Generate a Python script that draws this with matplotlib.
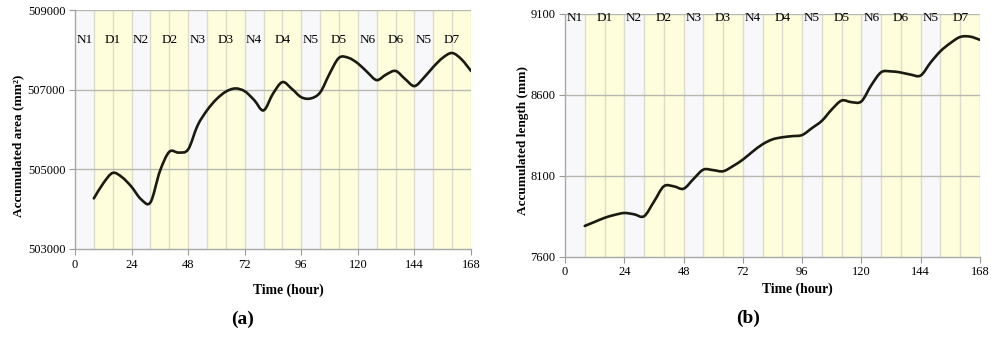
import numpy as np
import matplotlib
matplotlib.use("Agg")
import matplotlib.pyplot as plt
from matplotlib.path import Path
from matplotlib.patches import PathPatch

plt.rcParams['font.family'] = ['Liberation Serif', 'DejaVu Serif']

# ---- data ----
hours = [8, 12, 16, 20, 24, 28, 32, 36, 40, 44, 48, 52, 56, 60, 64, 68, 72, 76, 80, 84,
         88, 92, 96, 100, 104, 108, 112, 116, 120, 124, 128, 132, 136, 140, 144, 148,
         152, 156, 160, 164, 168]
area = [504270, 504650, 504910, 504800, 504560, 504250, 504170, 504950, 505440, 505420,
        505500, 506100, 506480, 506760, 506950, 507030, 506960, 506740, 506480, 506900,
        507190, 507020, 506810, 506780, 506930, 507400, 507800, 507800, 507660, 507440,
        507240, 507380, 507470, 507270, 507090, 507300, 507570, 507800, 507920, 507760,
        507470]
length = [7790, 7815, 7840, 7858, 7870, 7862, 7850, 7940, 8035, 8035, 8020, 8080, 8138,
          8135, 8128, 8160, 8200, 8250, 8295, 8325, 8338, 8345, 8352, 8395, 8440, 8510,
          8565, 8555, 8560, 8660, 8740, 8745, 8738, 8725, 8720, 8800, 8870, 8920, 8958,
          8960, 8940]
period_labels = ['N1', 'D1', 'N2', 'D2', 'N3', 'D3', 'N4', 'D4', 'N5', 'D5', 'N6', 'D6', 'N5', 'D7']
period_edges = [0, 8, 24, 32, 48, 56, 72, 80, 96, 104, 120, 128, 144, 152, 168]
x_ticks = [0, 24, 48, 72, 96, 120, 144, 168]
area_ticks = [503000, 505000, 507000, 509000]
length_ticks = [7600, 8100, 8600, 9100]

GREY = '#f8f8fa'
YELLOW = '#fefedc'
VLINE = '#dcdccc'
HLINE = '#b8b8b0'


def smooth_path(x, y):
    x = np.asarray(x, float)
    y = np.asarray(y, float)
    n = len(x)
    verts = [(x[0], y[0])]
    codes = [Path.MOVETO]
    for i in range(n - 1):
        i0 = max(i - 1, 0)
        i3 = min(i + 2, n - 1)
        c1 = (x[i] + (x[i + 1] - x[i0]) / 6, y[i] + (y[i + 1] - y[i0]) / 6)
        c2 = (x[i + 1] - (x[i3] - x[i]) / 6, y[i + 1] - (y[i3] - y[i]) / 6)
        verts += [c1, c2, (x[i + 1], y[i + 1])]
        codes += [Path.CURVE4] * 3
    return Path(verts, codes)


def draw(ax, yvals, yticks, ylabel, label_y, ylab_xy, xlab_xy):
    ymin, ymax = yticks[0], yticks[-1]
    for k in range(len(period_edges) - 1):
        a, b = period_edges[k], period_edges[k + 1]
        col = GREY if period_labels[k].startswith('N') else YELLOW
        ax.axvspan(a, b, color=col, lw=0, zorder=0)
        ax.text((a + b) / 2, label_y, period_labels[k], transform=ax.get_xaxis_transform(),
                ha='center', va='center', fontsize=9.5, zorder=3)
    for v in range(8, 169, 8):
        ax.axvline(v, color=VLINE, lw=1.0, zorder=1)
    for t in yticks[1:]:
        ax.axhline(t, color=HLINE, lw=1.0, zorder=1)
    ax.add_patch(PathPatch(smooth_path(hours, yvals), facecolor='none',
                           edgecolor='#1a1a10', lw=1.9, zorder=4, capstyle='round'))
    ax.set_xlim(0, 168)
    ax.set_ylim(ymin, ymax)
    ax.set_xticks(x_ticks)
    ax.set_yticks(yticks)
    ax.tick_params(axis='both', labelsize=9, color='#999999', length=4, width=0.8, pad=3)
    for s in ['top', 'right']:
        ax.spines[s].set_visible(False)
    for s in ['left', 'bottom']:
        ax.spines[s].set_color('#a8a8a8')
        ax.spines[s].set_linewidth(1.0)
    ax.set_xlabel('Time (hour)', fontsize=9.8, fontweight='bold')
    ax.set_ylabel(ylabel, fontsize=9.5, fontweight='bold')
    ax.yaxis.set_label_coords(*ylab_xy)
    ax.xaxis.set_label_coords(*xlab_xy)


fig = plt.figure(figsize=(10, 3.39), dpi=100)
ax1 = fig.add_axes([0.075, 0.2655, 0.396, 0.705])
ax2 = fig.add_axes([0.565, 0.2428, 0.415, 0.716])

draw(ax1, area, area_ticks, 'Accumulated area (mm²)', 0.875, (-0.128, 0.43), (0.538, -0.146))
draw(ax2, length, length_ticks, 'Accumulated length (mm)', 0.985, (-0.087, 0.477), (0.56, -0.108))

fig.text(0.243, 0.058, '(a)', ha='center', va='center', fontsize=14, fontweight='bold')
fig.text(0.748, 0.062, '(b)', ha='center', va='center', fontsize=14, fontweight='bold')

fig.savefig('out.png', dpi=100)
